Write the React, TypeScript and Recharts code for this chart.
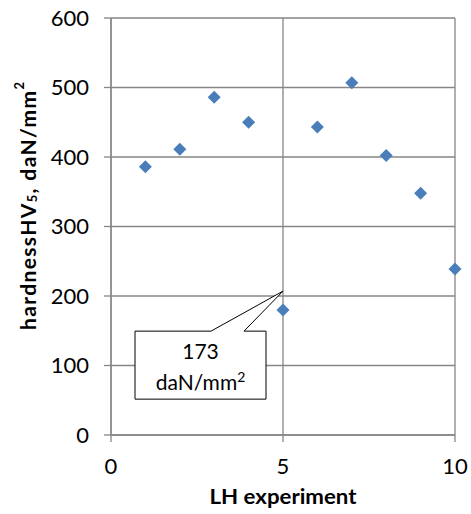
import { CartesianGrid, ReferenceDot, Scatter, ScatterChart, XAxis, YAxis } from "recharts"

const experiments = [1, 2, 3, 4, 5, 6, 7, 8, 9, 10]
const hardness = [386, 411, 486, 450, 180, 443, 507, 402, 348, 239]

const xTicks = [0, 5, 10]
const yTicks = [0, 100, 200, 300, 400, 500, 600]

// callout pointer tip, in data units
const calloutX = 5
const calloutY = 207
const calloutValue = "173"
const calloutUnit = "daN/mm"

const FONT = "Lato, 'Open Sans', sans-serif"
const GRID = "#868686"
const MARKER = "#4a7ebb"

const data = experiments.map((x, i) => ({ x, y: hardness[i] }))

function Diamond(props: any) {
  const { cx, cy } = props
  const r = 6.5
  return (
    <polygon
      points={`${cx},${cy - r} ${cx + r},${cy} ${cx},${cy + r} ${cx - r},${cy}`}
      fill={MARKER}
    />
  )
}

function Callout(props: any) {
  const { cx, cy } = props
  const left = cx - 148
  const right = cx - 17
  const top = cy + 40
  const bottom = cy + 108
  const path = [
    `M${left},${top}`,
    `L${cx - 72},${top}`,
    `L${cx},${cy}`,
    `L${cx - 39},${top}`,
    `L${right},${top}`,
    `L${right},${bottom}`,
    `L${left},${bottom}`,
    "Z",
  ].join(" ")
  const mid = (left + right) / 2
  return (
    <g>
      <path d={path} fill="#fff" stroke="#000" strokeWidth={1} />
      <text x={mid} y={cy + 68} textAnchor="middle" fontFamily={FONT} fontSize={21} fill="#000">
        {calloutValue}
      </text>
      <text x={mid} y={cy + 99} textAnchor="middle" fontFamily={FONT} fontSize={21} fill="#000">
        {calloutUnit}
        <tspan fontSize={14} dy={-8}>2</tspan>
      </text>
    </g>
  )
}

function YLabel(props: any) {
  const cy = 206
  const x = 27
  return (
    <text
      transform={`rotate(-90 ${x} ${cy})`}
      x={x}
      y={cy}
      textAnchor="middle"
      dominantBaseline="central"
      fontFamily={FONT}
      fontWeight="bold"
      fontSize={21}
      fill="#000"
      textLength={248}
      lengthAdjust="spacing"
    >
      hardnessHV
      <tspan fontSize={13} dy={5}>5</tspan>
      <tspan dy={-5}>, daN/mm</tspan>
      <tspan fontSize={13} dy={-8}>2</tspan>
    </text>
  )
}

function XLabel(props: any) {
  return (
    <text x={283} y={504} textAnchor="middle" fontFamily={FONT} fontWeight="bold" fontSize={21} fill="#000" textLength={147} lengthAdjust="spacingAndGlyphs">
      LH experiment
    </text>
  )
}

export default function App() {
  const tick = { fontFamily: FONT, fontSize: 22, fill: "#000" }
  return (
    <div style={{ position: "absolute", left: 0, top: 0, width: 471, height: 514, background: "#fff" }}>
      <ScatterChart width={471} height={514} margin={{ top: 18, right: 16, bottom: 0, left: 0 }}>
        <CartesianGrid stroke={GRID} strokeWidth={1.3} />
        <XAxis
          type="number"
          dataKey="x"
          domain={[0, 10]}
          ticks={xTicks}
          height={79}
          tickSize={7}
          tickMargin={16}
          tick={tick}
          stroke={GRID}
          strokeWidth={1.3}
          label={<XLabel />}
        />
        <YAxis
          type="number"
          dataKey="y"
          domain={[0, 600]}
          ticks={yTicks}
          width={111}
          tickSize={7}
          tickMargin={15}
          tick={tick}
          stroke={GRID}
          strokeWidth={1.3}
          label={<YLabel />}
        />
        <Scatter data={data} shape={<Diamond />} isAnimationActive={false} />
        <ReferenceDot x={calloutX} y={calloutY} shape={<Callout />} />
      </ScatterChart>
    </div>
  )
}
